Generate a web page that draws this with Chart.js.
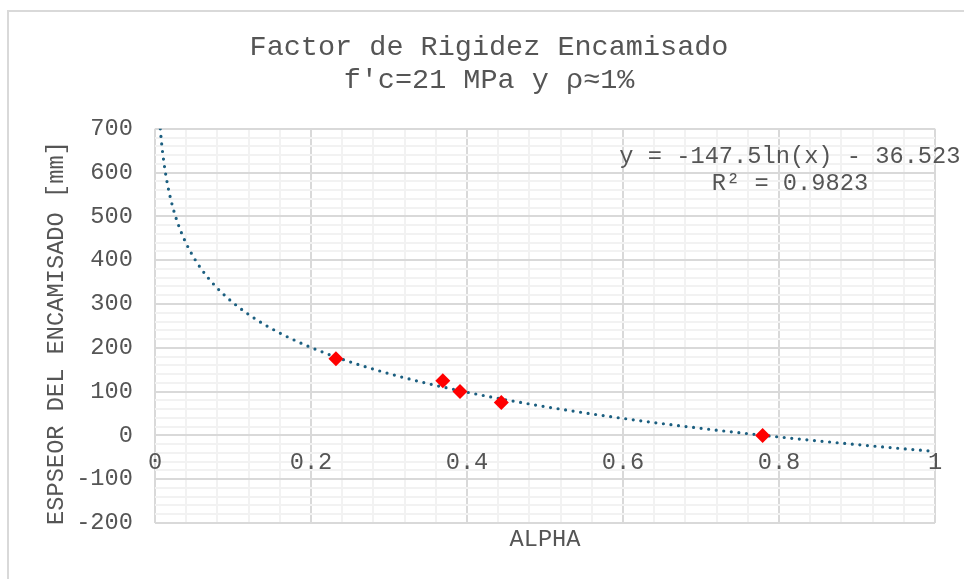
<!DOCTYPE html>
<html lang="es">
<head>
  <meta charset="UTF-8">
  <title>Factor de Rigidez Encamisado</title>
  <script src="https://cdn.jsdelivr.net/npm/chart.js"></script>
  <style>
    html, body { margin: 0; padding: 0; background: #fff; overflow: hidden; }
    .marco { position: absolute; left: 7px; top: 10px; width: 1000px; height: 1000px; border: 2px solid #d9d9d9; box-sizing: border-box; }
    .lienzo { position: absolute; left: 0; top: 0; width: 964px; height: 579px; }
  </style>
</head>
<body>
  <div class="marco"></div>
  <div class="lienzo"><canvas id="rigidez"></canvas></div>

  <script>
    // puntos medidos: alpha vs espesor del encamisado [mm]
    const alpha = [0.232, 0.369, 0.391, 0.444, 0.779];
    const espesor = [175, 125, 100, 75, 0];

    // tendencia logaritmica y = a*ln(x) + b
    const tendA = -147.5;
    const tendB = -36.523;
    const r2 = 0.9823;
    const posEcuacion = [0.814, 636];

    // etiquetas de los ejes
    const etiquetasX = [0, 0.2, 0.4, 0.6, 0.8, 1];
    const etiquetasY = [-200, -100, 0, 100, 200, 300, 400, 500, 600, 700];

    const fuente = '"Liberation Mono", "Courier New", monospace';
    const gris = '#555555';

    // curva de tendencia desde y=700 hasta x=1
    const yTope = 700;
    const x0 = Math.exp((yTope - tendB) / tendA);
    const curva = [];
    for (let i = 0; i <= 300; i++) {
      const x = x0 * Math.pow(1 / x0, i / 300);
      curva.push({ x: x, y: tendA * Math.log(x) + tendB });
    }

    const esEtiqueta = (lista, v) => lista.some(e => Math.abs(e - v) < 1e-6);

    const etiquetaTendencia = {
      id: 'etiquetaTendencia',
      afterDatasetsDraw(chart) {
        const { ctx, scales: { x, y } } = chart;
        const cx = x.getPixelForValue(posEcuacion[0]);
        const cy = y.getPixelForValue(posEcuacion[1]);
        ctx.save();
        ctx.font = '23.7px ' + fuente;
        ctx.fillStyle = gris;
        ctx.textAlign = 'center';
        ctx.textBaseline = 'middle';
        ctx.fillText('y = ' + tendA + 'ln(x) - ' + Math.abs(tendB), cx, cy);
        ctx.fillText('R² = ' + r2, cx, cy + 27);
        ctx.restore();
      }
    };

    new Chart(document.getElementById('rigidez'), {
      type: 'scatter',
      data: {
        datasets: [
          {
            label: 'datos',
            data: alpha.map((a, i) => ({ x: a, y: espesor[i] })),
            pointStyle: 'rectRot',
            pointRadius: 7.5,
            pointHoverRadius: 7.5,
            backgroundColor: '#ff0000',
            borderWidth: 0
          },
          {
            label: 'tendencia',
            data: curva,
            showLine: true,
            pointRadius: 0,
            borderColor: '#1c5f80',
            borderWidth: 3.2,
            borderDash: [0, 7.6],
            borderCapStyle: 'round',
            tension: 0
          }
        ]
      },
      options: {
        responsive: true,
        maintainAspectRatio: false,
        animation: false,
        layout: { padding: { left: 43, right: 29, top: 0, bottom: 0 } },
        plugins: {
          legend: { display: false },
          tooltip: { enabled: false },
          title: {
            display: true,
            text: ['Factor de Rigidez Encamisado', "f'c=21 MPa y ρ≈1%"],
            color: gris,
            font: { family: fuente, size: 28.5, weight: 'normal', lineHeight: 1.19 },
            padding: { top: 30, bottom: 31 }
          }
        },
        scales: {
          x: {
            type: 'linear',
            position: { y: 0 },
            min: 0,
            max: 1,
            border: { display: false },
            grid: {
              drawTicks: false,
              color: c => esEtiqueta(etiquetasX, c.tick.value) ? '#d9d9d9' : '#f2f2f2',
              lineWidth: 2
            },
            ticks: {
              stepSize: 0.04,
              autoSkip: false,
              maxRotation: 0,
              padding: 13,
              color: gris,
              font: { family: fuente, size: 23.7 },
              callback: v => esEtiqueta(etiquetasX, v) ? String(Math.round(v * 10) / 10) : ''
            }
          },
          x2: {
            type: 'linear',
            position: 'bottom',
            min: 0,
            max: 1,
            border: { display: false },
            grid: { display: false },
            ticks: { display: false },
            title: {
              display: true,
              text: 'ALPHA',
              color: gris,
              font: { family: fuente, size: 23.7 },
              padding: { top: 0, bottom: 25 }
            },
            afterFit(s) { s.height = 56; }
          },
          y: {
            type: 'linear',
            min: -200,
            max: 700,
            border: { display: false },
            grid: {
              drawTicks: false,
              color: c => esEtiqueta(etiquetasY, c.tick.value) ? '#d9d9d9' : '#f2f2f2',
              lineWidth: 2
            },
            ticks: {
              stepSize: 20,
              autoSkip: false,
              padding: 22,
              color: gris,
              font: { family: fuente, size: 23.7 },
              callback: v => esEtiqueta(etiquetasY, v) ? String(Math.round(v)) : ''
            },
            title: {
              display: true,
              text: 'ESPSEOR DEL ENCAMISADO [mm] ',
              color: gris,
              font: { family: fuente, size: 23.7 },
              padding: { top: 0, bottom: 0 }
            },
            afterFit(s) { s.width = 112; }
          }
        }
      },
      plugins: [etiquetaTendencia]
    });
  </script>
</body>
</html>
